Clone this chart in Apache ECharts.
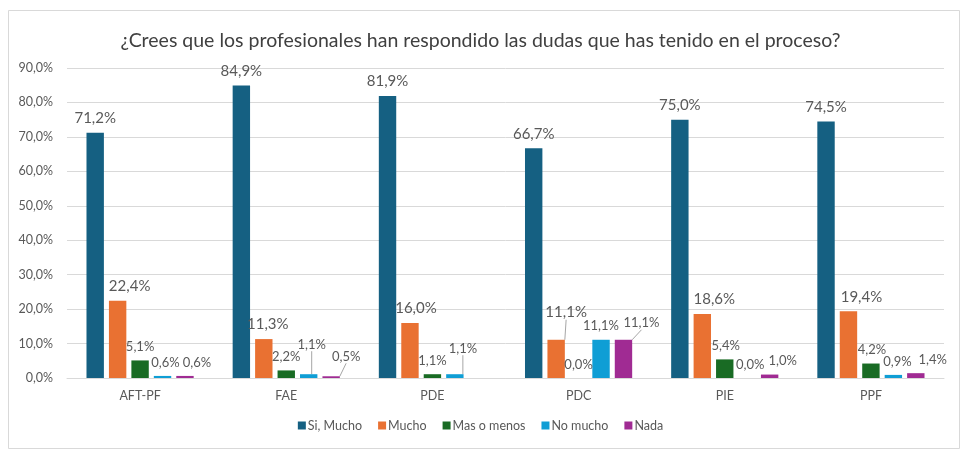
<!DOCTYPE html>
<html>
<head>
<meta charset="utf-8">
<script src="https://cdn.jsdelivr.net/npm/echarts@6/dist/echarts.min.js"></script>
<style>
  html, body { margin: 0; padding: 0; background: #ffffff; }
  #chart { width: 961px; height: 451px; }
</style>
</head>
<body>
<div id="chart"></div>
<script>
const titleText = '¿Crees que los profesionales han respondido las dudas que has tenido en el proceso?';
const categories = ['AFT-PF', 'FAE', 'PDE', 'PDC', 'PIE', 'PPF'];
const seriesNames = ['Si, Mucho', 'Mucho', 'Mas o menos', 'No mucho', 'Nada'];
const siMucho    = [71.2, 84.9, 81.9, 66.7, 75.0, 74.5];
const mucho      = [22.4, 11.3, 16.0, 11.1, 18.6, 19.4];
const masOMenos  = [5.1, 2.2, 1.1, 0.0, 5.4, 4.2];
const noMucho    = [0.6, 1.1, 1.1, 11.1, 0.0, 0.9];
const nada       = [0.6, 0.5, null, 11.1, 1.0, 1.4];
const yTicks = [0, 10, 20, 30, 40, 50, 60, 70, 80, 90];

const colors = ['#156082', '#E97132', '#196B24', '#0F9ED5', '#A02B93'];
const labelSizes = [15, 15, 13, 13, 13];

// label placement tweaks (dx, dy) and which labels carry a leader line
const labelOffsets = [
  [[0,0],[0,0],[0,0],[0,0],[0,0],[0,0]],
  [[12,0],[4,0],[6,0],[10,-13],[12,0],[13,0]],
  [[0,0],[0,0],[0,0],[0,0],[1,0],[1,0]],
  [[3,0],[3,-16],[8,-12],[0,0],[3,0],[4,0]],
  [[12,0],[15,-6],[0,0],[18,-3],[13,0],[17,0]]
];
const leaders = [
  [false,false,false,false,false,false],
  [false,false,false,true,false,false],
  [false,false,false,false,false,false],
  [false,true,true,false,false,false],
  [false,true,false,true,false,false]
];

const allValues = [siMucho, mucho, masOMenos, noMucho, nada];

function fmt(v) {
  return v.toFixed(1).replace('.', ',') + '%';
}

const series = allValues.map((vals, si) => ({
  name: seriesNames[si],
  type: 'bar',
  barWidth: 17.4,
  barGap: '29%',
  itemStyle: { color: colors[si] },
  label: {
    show: true,
    position: 'top',
    distance: 7,
    color: '#595959',
    fontSize: labelSizes[si],
    fontFamily: 'Lato, sans-serif',
    formatter: p => (p.value == null ? '' : fmt(p.value))
  },
  labelLine: { show: false, lineStyle: { color: '#a6a6a6', width: 1 } },
  labelLayout: function (p) {
    const o = labelOffsets[si][p.dataIndex];
    return { dx: o[0], dy: o[1] };
  },
  data: vals.map((v, i) => {
    const item = { value: v };
    if (leaders[si][i]) {
      item.labelLine = { show: true, length2: 0, lineStyle: { color: '#a6a6a6', width: 1 } };
    }
    return item;
  })
}));

const chart = echarts.init(document.getElementById('chart'), null, { renderer: 'canvas' });
chart.setOption({
  backgroundColor: '#ffffff',
  animation: false,
  title: {
    text: titleText,
    left: 'center',
    top: 26,
    textStyle: { color: '#404040', fontSize: 19.5, fontWeight: 'normal', fontFamily: 'Lato, sans-serif' }
  },
  graphic: [{
    type: 'rect',
    shape: { x: 8.5, y: 10.5, width: 951, height: 438 },
    style: { fill: 'none', stroke: '#d9d9d9', lineWidth: 1 },
    silent: true,
    z: -10
  }],
  legend: {
    data: seriesNames,
    bottom: 14,
    left: 'center',
    icon: 'rect',
    itemWidth: 8,
    itemHeight: 8,
    itemGap: 16,
    textStyle: { color: '#595959', fontSize: 12.5, fontFamily: 'Lato, sans-serif', padding: [0, 0, 0, -3] }
  },
  grid: { left: 67, right: 17, top: 68, bottom: 73, containLabel: false },
  xAxis: {
    type: 'category',
    data: categories,
    axisLine: { lineStyle: { color: '#d9d9d9', width: 1 } },
    axisTick: { show: false },
    axisLabel: { color: '#595959', fontSize: 12.5, margin: 11, fontFamily: 'Lato, sans-serif' }
  },
  yAxis: {
    type: 'value',
    min: yTicks[0],
    max: yTicks[yTicks.length - 1],
    interval: 10,
    axisLine: { show: false },
    axisTick: { show: false },
    splitLine: { lineStyle: { color: '#d9d9d9', width: 1 } },
    axisLabel: {
      color: '#595959', fontSize: 12.5, margin: 14, fontFamily: 'Lato, sans-serif',
      formatter: v => v.toFixed(1).replace('.', ',') + '%'
    }
  },
  series: series
});
</script>
</body>
</html>
